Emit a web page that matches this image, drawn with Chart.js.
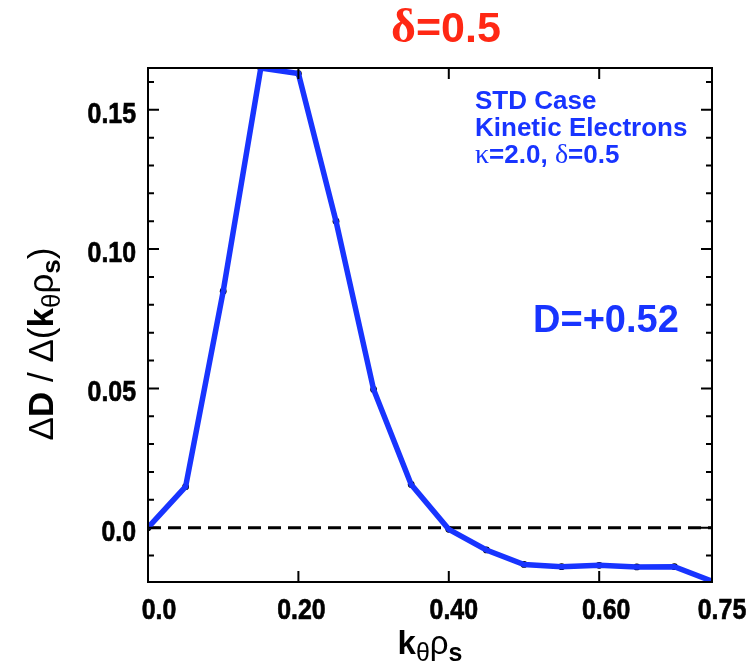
<!DOCTYPE html>
<html>
<head>
<meta charset="utf-8">
<script src="https://cdn.jsdelivr.net/npm/chart.js@4.4.1/dist/chart.umd.min.js"></script>
<style>
  body { margin: 0; background: #fff; }
  canvas { display: block; }
</style>
</head>
<body>
<canvas id="spectrum" width="746" height="672"></canvas>
<script>
// k_theta rho_s grid and the diffusivity spectrum dD/d(k rho)
const kTheta = [0, 0.05, 0.10, 0.15, 0.20, 0.25, 0.30, 0.35, 0.40, 0.45, 0.50, 0.55, 0.60, 0.65, 0.70, 0.75];
const dDdk = [0.0, 0.0147, 0.0849, 0.165, 0.163, 0.110, 0.0496, 0.0155, -0.0006, -0.0080, -0.0132, -0.0140, -0.0135, -0.0141, -0.0140, -0.0192];

const xTicks = [0, 0.2, 0.4, 0.6, 0.75];
const yTicks = [-0.01, 0, 0.01, 0.02, 0.03, 0.04, 0.05, 0.06, 0.07, 0.08, 0.09, 0.10, 0.11, 0.12, 0.13, 0.14, 0.15, 0.16];

const blue = 'rgb(24, 52, 255)';
const red = 'rgb(255, 40, 20)';
const sans = "'Liberation Sans', Arial, sans-serif";
const serif = "'Liberation Serif', 'Times New Roman', serif";

const isMajor = v => Math.abs(Math.round(v * 100)) % 5 === 0;
const fmt = v => (Math.abs(v) < 1e-9 ? '0.0' : v.toFixed(2));

const points = kTheta.map((k, i) => ({ x: k, y: dDdk[i] }));

// draw a row of text pieces with their own fonts (for sub/superscripts)
function drawRuns(ctx, runs, x, y, align) {
  let w = 0;
  runs.forEach(r => { ctx.font = r.font; r.w = ctx.measureText(r.t).width; w += r.w; });
  let cx = align === 'center' ? x - w / 2 : x;
  ctx.textAlign = 'left';
  ctx.textBaseline = 'alphabetic';
  runs.forEach(r => {
    ctx.font = r.font;
    ctx.fillText(r.t, cx, y + (r.dy || 0));
    cx += r.w;
  });
}

// condensed bold numbers for the axis labels
function narrowText(ctx, text, x, y, align) {
  ctx.save();
  ctx.font = 'bold 30px ' + sans;
  ctx.textAlign = align;
  ctx.textBaseline = 'alphabetic';
  ctx.translate(x, y);
  ctx.scale(0.83, 1);
  ctx.lineWidth = 0.7;
  ctx.strokeStyle = '#000';
  ctx.fillText(text, 0, 0);
  ctx.strokeText(text, 0, 0);
  ctx.restore();
}

const decor = {
  id: 'decor',
  beforeDatasetsDraw(chart) {
    const { ctx, chartArea: a, scales: { y } } = chart;
    const y0 = y.getPixelForValue(0);
    ctx.save();
    ctx.strokeStyle = '#000';
    ctx.lineWidth = 3;
    ctx.setLineDash([13, 7]);
    ctx.beginPath();
    ctx.moveTo(a.left, y0);
    ctx.lineTo(a.right, y0);
    ctx.stroke();
    ctx.restore();
  },
  afterDraw(chart) {
    const { ctx, chartArea: a, scales: { x, y } } = chart;
    ctx.save();
    ctx.strokeStyle = '#000';
    ctx.lineWidth = 2;
    ctx.strokeRect(a.left, a.top, a.right - a.left, a.bottom - a.top);

    // inward tick marks on all four sides, labels outside
    ctx.fillStyle = '#000';
    const ticks = new Path2D();
    yTicks.forEach(v => {
      const py = y.getPixelForValue(v);
      const len = isMajor(v) ? 11 : 6;
      ticks.moveTo(a.left, py); ticks.lineTo(a.left + len, py);
      ticks.moveTo(a.right, py); ticks.lineTo(a.right - len, py);
      if (isMajor(v)) narrowText(ctx, fmt(v), a.left - 12, py + 13, 'right');
    });
    // end labels sit a little right of their ticks
    const xShift = [11, 3, 5, 7, 10];
    xTicks.forEach((v, i) => {
      const px = x.getPixelForValue(v);
      narrowText(ctx, fmt(v), px + xShift[i], a.bottom + 37, 'center');
      if (v <= x.min || v >= x.max) return;
      ticks.moveTo(px, a.bottom); ticks.lineTo(px, a.bottom - 11);
      ticks.moveTo(px, a.top); ticks.lineTo(px, a.top + 11);
    });
    ctx.lineWidth = 2;
    ctx.stroke(ticks);

    // title
    ctx.fillStyle = red;
    drawRuns(ctx, [
      { t: 'δ', font: 'bold 48px ' + serif },
      { t: '=0.5', font: 'bold 43px ' + sans }
    ], 446, 42, 'center');

    // case notes
    ctx.fillStyle = blue;
    drawRuns(ctx, [{ t: 'STD Case', font: 'bold 26px ' + sans }], 475, 109);
    drawRuns(ctx, [{ t: 'Kinetic Electrons', font: 'bold 26px ' + sans }], 475, 136);
    drawRuns(ctx, [
      { t: 'κ', font: '28px ' + serif },
      { t: '=2.0, ', font: 'bold 26px ' + sans },
      { t: 'δ', font: '28px ' + serif },
      { t: '=0.5', font: 'bold 26px ' + sans }
    ], 475, 163);
    drawRuns(ctx, [{ t: 'D=+0.52', font: 'bold 38px ' + sans }], 533, 332);

    // axis titles
    ctx.fillStyle = '#000';
    drawRuns(ctx, [
      { t: 'k', font: 'bold 33px ' + sans },
      { t: 'θ', font: '25px ' + sans, dy: 7 },
      { t: 'ρ', font: '33px ' + sans },
      { t: 's', font: 'bold 25px ' + sans, dy: 7 }
    ], 430, 654, 'center');

    ctx.translate(53, 344);
    ctx.rotate(-Math.PI / 2);
    drawRuns(ctx, [
      { t: 'Δ', font: '35px ' + sans },
      { t: 'D', font: 'bold 35px ' + sans },
      { t: ' / ', font: '35px ' + sans },
      { t: 'Δ', font: '35px ' + sans },
      { t: '(', font: '35px ' + sans },
      { t: 'k', font: 'bold 35px ' + sans },
      { t: 'θ', font: '26px ' + sans, dy: 7 },
      { t: 'ρ', font: '35px ' + sans },
      { t: 's', font: 'bold 26px ' + sans, dy: 7 },
      { t: ')', font: '35px ' + sans }
    ], 0, 0, 'center');
    ctx.restore();
  }
};

const ctx = document.getElementById('spectrum').getContext('2d');
const spectrumChart = new Chart(ctx, {
  type: 'line',
  data: {
    datasets: [{
      data: points,
      borderColor: blue,
      borderWidth: 5.5,
      pointRadius: 0,
      tension: 0,
      clip: 0,
      order: 1
    }, {
      data: points,
      showLine: false,
      pointRadius: 3.4,
      pointBackgroundColor: '#000',
      pointBorderWidth: 0,
      clip: 0,
      order: 2
    }]
  },
  options: {
    responsive: false,
    animation: false,
    layout: { padding: { left: 0, right: 34, top: 68, bottom: 0 } },
    plugins: {
      legend: { display: false },
      tooltip: { enabled: false },
      title: { display: false }
    },
    scales: {
      x: {
        type: 'linear',
        min: 0,
        max: 0.75,
        grid: { display: false, drawTicks: false },
        border: { display: false },
        afterBuildTicks: s => { s.ticks = xTicks.map(v => ({ value: v })); },
        afterFit: s => { s.height = 90; },
        ticks: { display: false }
      },
      y: {
        min: -0.0195,
        max: 0.165,
        grid: { display: false, drawTicks: false },
        border: { display: false },
        afterBuildTicks: s => { s.ticks = yTicks.map(v => ({ value: v })); },
        afterFit: s => { s.width = 148; },
        ticks: { display: false }
      }
    }
  },
  plugins: [decor]
});
</script>
</body>
</html>
